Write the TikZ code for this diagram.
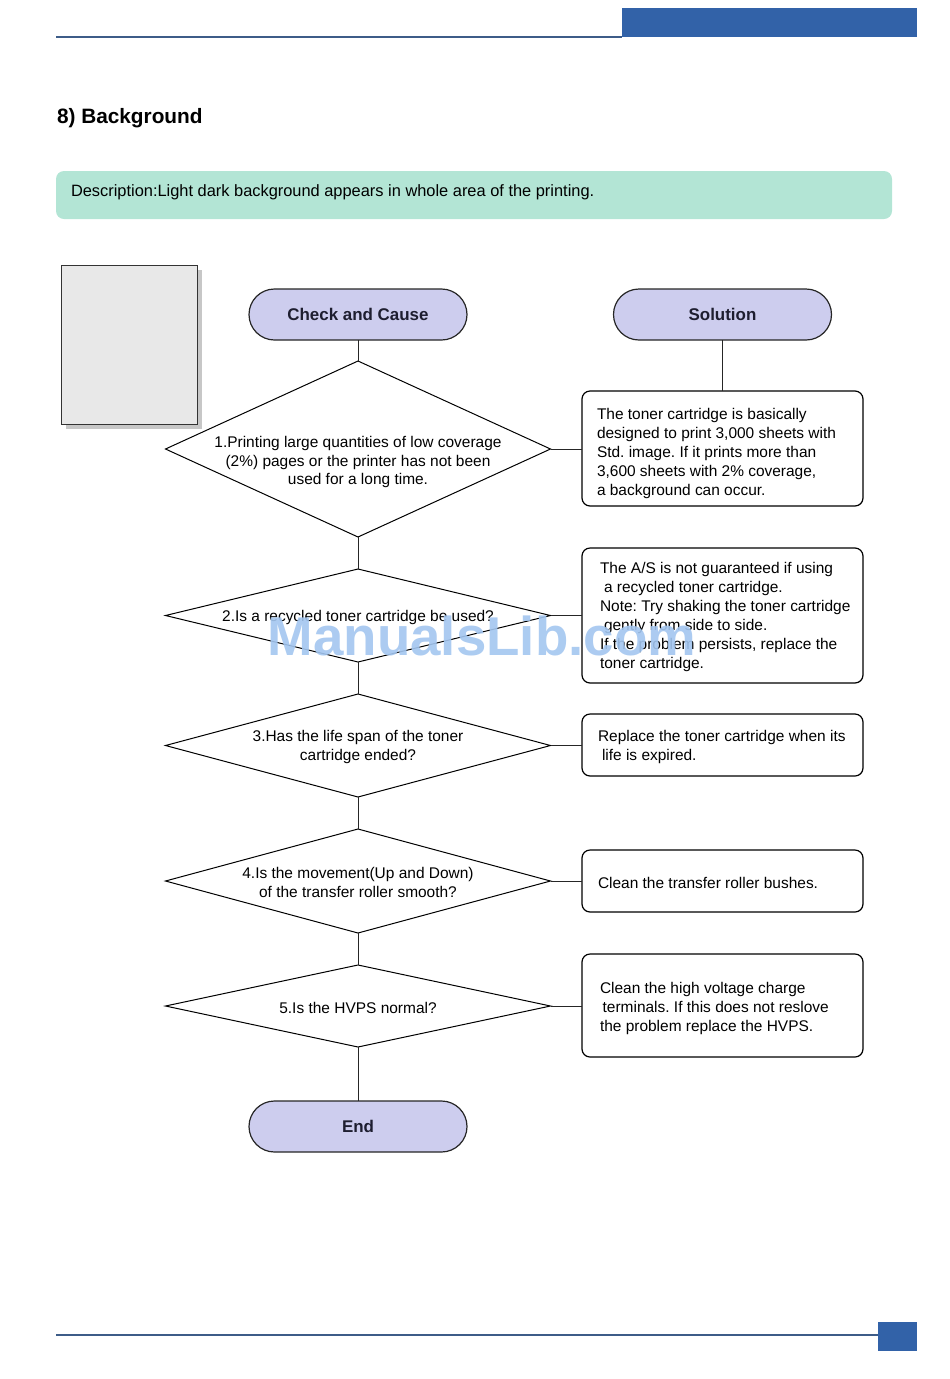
\documentclass[tikz,border=0pt]{standalone}
\usepackage{fontspec}
\setmainfont{Liberation Sans}
\usetikzlibrary{shapes.geometric,shapes.misc,shadows,calc}
\definecolor{hdrblue}{HTML}{3262A8}
\definecolor{hdrline}{HTML}{3D5C88}
\definecolor{descfill}{HTML}{B3E5D5}
\definecolor{termfill}{HTML}{CDCDEE}
\definecolor{paper}{HTML}{E8E8E8}
\definecolor{wmblue}{HTML}{A3C6F0}
\definecolor{termtext}{HTML}{1E1E30}
\frenchspacing
\begin{document}
\begin{tikzpicture}[x=0.75pt,y=-0.75pt,
  every node/.style={inner sep=0pt, outer sep=0pt},
  termbox/.style={rounded rectangle, draw=black!85, line width=0.9pt, fill=termfill,
    minimum width=163.5pt, minimum height=38.25pt,
    font=\fontsize{12.7}{15}\selectfont\bfseries, text=termtext},
  dia/.style={diamond, draw=black, line width=0.75pt, minimum width=288.75pt, fill=white},
  qtxt/.style={align=center, font=\fontsize{11.6}{14.2}\selectfont},
  solbox/.style={draw=black, line width=0.9pt, rounded corners=6pt, minimum width=210.75pt, fill=white},
  stxt/.style={align=left, font=\fontsize{11.6}{14.2}\selectfont, anchor=west},
  conn/.style={draw=black!85, line width=0.75pt}
]
\useasboundingbox (0,0) rectangle (950,1379);
% header / footer
\fill[hdrblue] (622,8) rectangle (917,37);
\draw[hdrline, line width=1.1pt] (56,37) -- (622,37);
\draw[hdrline, line width=1.1pt] (56,1335) -- (878,1335);
\fill[hdrblue] (878,1322) rectangle (917,1351);

% title and description
\node[anchor=west, font=\fontsize{15.6}{18}\selectfont\bfseries] (title) at (57,118) {8) Background};
\node[fill=descfill, rounded corners=6pt, minimum width=627pt, minimum height=36pt] (desc) at (474,195) {};
\node[anchor=west, font=\fontsize{12.3}{15}\selectfont] (desctxt) at (71,192) {Description:Light dark background appears in whole area of the printing.};

% paper sample
\node[draw=black!80, line width=0.75pt, fill=paper, minimum width=102pt, minimum height=119.25pt,
  drop shadow={shadow xshift=3.5pt, shadow yshift=-3.5pt, fill=black!40, opacity=0.55}] (paper) at (129,344.5) {};

% terminals
\node[termbox] (cc) at (358,314.5) {Check and Cause};
\node[termbox] (so) at (722.5,314.5) {Solution};
\node[termbox] (en) at (358,1126.5) {End};

% diamonds
\node[dia, minimum height=132pt] (d1) at (358,449) {};
\node[dia, minimum height=69.75pt] (d2) at (358,615.5) {};
\node[dia, minimum height=77.25pt] (d3) at (358,745.5) {};
\node[dia, minimum height=78pt] (d4) at (358,881) {};
\node[dia, minimum height=61.5pt] (d5) at (358,1006) {};

\node[qtxt] (q1) at (358,462) {1.Printing large quantities of low coverage\\(2\%) pages or the printer has not been\\used for a long time.};
\node[qtxt] (q2) at (358,617) {2.Is a recycled toner cartridge be used?};
\node[qtxt] (q3) at (358,747) {3.Has the life span of the toner\\cartridge ended?};
\node[qtxt] (q4) at (358,882.5) {4.Is the movement(Up and Down)\\of the transfer roller smooth?};
\node[qtxt] (q5) at (358,1008) {5.Is the HVPS normal?};

% solution boxes
\node[solbox, minimum height=86.25pt] (b1) at (722.5,448.5) {};
\node[solbox, minimum height=101.25pt] (b2) at (722.5,615.5) {};
\node[solbox, minimum height=46.5pt] (b3) at (722.5,745) {};
\node[solbox, minimum height=46.5pt] (b4) at (722.5,881) {};
\node[solbox, minimum height=77.25pt] (b5) at (722.5,1005.5) {};

\node[stxt] (s1) at (597,453.5) {The toner cartridge is basically\\designed to print 3,000 sheets with\\Std. image. If it prints more than\\3,600 sheets with 2\% coverage,\\a background can occur.};
\node[stxt] (s2) at (600,617) {The A/S is not guaranteed if using\\\hspace*{3pt}a recycled toner cartridge.\\Note: Try shaking the toner cartridge\\\hspace*{3pt}gently from side to side.\\If the problem persists, replace the\\toner cartridge.};
\node[stxt] (s3) at (598,747) {Replace the toner cartridge when its\\\hspace*{3pt}life is expired.};
\node[stxt] (s4) at (598,883) {Clean the transfer roller bushes.};
\node[stxt] (s5) at (600,1008.5) {Clean the high voltage charge\\\hspace*{2pt}terminals. If this does not reslove\\the problem replace the HVPS.};

% connectors
\draw[conn] (cc.south) -- (d1.north);
\draw[conn] (d1.south) -- (d2.north);
\draw[conn] (d2.south) -- (d3.north);
\draw[conn] (d3.south) -- (d4.north);
\draw[conn] (d4.south) -- (d5.north);
\draw[conn] (d5.south) -- (en.north);
\draw[conn] (so.south) -- (b1.north);
\draw[conn] (d1.east) -- (d1.east -| b1.west);
\draw[conn] (d2.east) -- (d2.east -| b2.west);
\draw[conn] (d3.east) -- (d3.east -| b3.west);
\draw[conn] (d4.east) -- (d4.east -| b4.west);
\draw[conn] (d5.east) -- (d5.east -| b5.west);

% watermark
\node[font=\fontsize{41}{48}\selectfont\bfseries, text=wmblue, opacity=0.9] (wm) at (482,636) {ManualsLib.com};
\end{tikzpicture}
\end{document}
